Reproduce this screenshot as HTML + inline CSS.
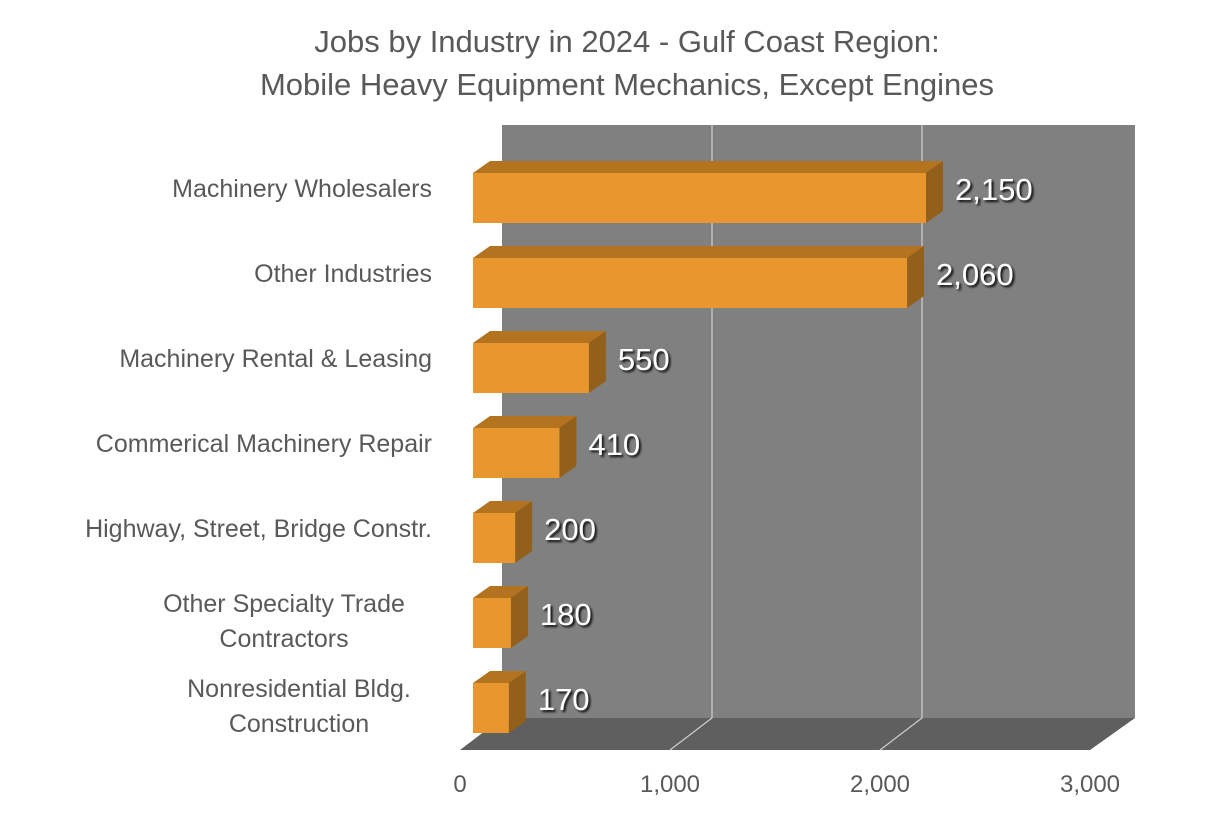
<!DOCTYPE html>
<html><head><meta charset="utf-8"><style>
body{margin:0;background:#fff;width:1214px;height:822px;overflow:hidden}
text{font-family:"Liberation Sans",sans-serif}
</style></head><body>
<svg id="chart" width="1214" height="822" xmlns="http://www.w3.org/2000/svg">
<defs><filter id="sh" x="-20%" y="-20%" width="140%" height="140%"><feDropShadow dx="2" dy="2" stdDeviation="1" flood-color="#000" flood-opacity="0.9"/></filter></defs>
<text x="627" y="52" text-anchor="middle" font-size="31" fill="#595959">Jobs by Industry in 2024 - Gulf Coast Region:</text>
<text x="627" y="95" text-anchor="middle" font-size="31" fill="#595959">Mobile Heavy Equipment Mechanics, Except Engines</text>
<polygon points="502,125 1135,125 1135,718 502,718" fill="#808080"/>
<polygon points="460,750 1090,750 1135,718 502,718" fill="#5f5f5f"/>
<g id="grid"></g><g id="bars"></g><g id="labels"></g>
</svg>
<script>
const categories=["Machinery Wholesalers","Other Industries","Machinery Rental & Leasing","Commerical Machinery Repair","Highway, Street, Bridge Constr.","Other Specialty Trade|Contractors","Nonresidential Bldg.|Construction"];
const values=[2150,2060,550,410,200,180,170];
const valueLabels=["2,150","2,060","550","410","200","180","170"];
const ticks=[0,1000,2000,3000];
const tickLabels=["0","1,000","2,000","3,000"];
const NS="http://www.w3.org/2000/svg";
const xF=v=>460+v*0.21; // front floor edge
const xB=v=>473+v*0.2107; // bar front face
const yC=i=>198+i*85;
function mk(t,a,p){const e=document.createElementNS(NS,t);for(const k in a)e.setAttribute(k,a[k]);p.appendChild(e);return e;}
const grid=document.getElementById('grid'),bars=document.getElementById('bars'),labs=document.getElementById('labels');
ticks.forEach((t,i)=>{
 const x=xF(t);
 if(i>0&&i<ticks.length-1){
 const l=mk('polyline',{points:`${x},750 ${x+42},718 ${x+42},125`,fill:'none',stroke:'#d0d0d0','stroke-width':1.2},grid);
 
 }
 const tx=mk('text',{x:x,y:792,'text-anchor':'middle','font-size':24,fill:'#595959'},labs);
 tx.textContent=tickLabels[i];
 
 
});
values.forEach((v,i)=>{
 const x0=473,x1=xB(v),yc=yC(i),yt=yc-25,yb=yc+25,dx=17,dy=12;
 const g=mk('g',{},bars);
 
 
 mk('polygon',{points:`${x0},${yt} ${x0+dx},${yt-dy} ${x1+dx},${yt-dy} ${x1},${yt}`,fill:'#b3731f'},g);
 mk('polygon',{points:`${x1},${yt} ${x1+dx},${yt-dy} ${x1+dx},${yb-dy} ${x1},${yb}`,fill:'#93601c'},g);
 mk('rect',{x:x0,y:yt,width:x1-x0,height:50,fill:'#e8962e'},g);
 const vl=mk('text',{x:x1+dx+12,y:yc+2,'font-size':31,fill:'#fff',filter:'url(#sh)'},labs);
 vl.textContent=valueLabels[i];
 
 
 const parts=categories[i].split('|');
 const c=mk('text',{'font-size':25,fill:'#595959','text-anchor':parts.length>1?'middle':'end'},labs);
 
 
 if(parts.length===1){c.setAttribute('x',432);c.setAttribute('y',yc-1);c.textContent=parts[0];}
 else parts.forEach((p,j)=>{const s=mk('tspan',{x:i===6?299:284,y:yc-11+j*35},c);s.textContent=p;});
});
</script>
</body></html>
